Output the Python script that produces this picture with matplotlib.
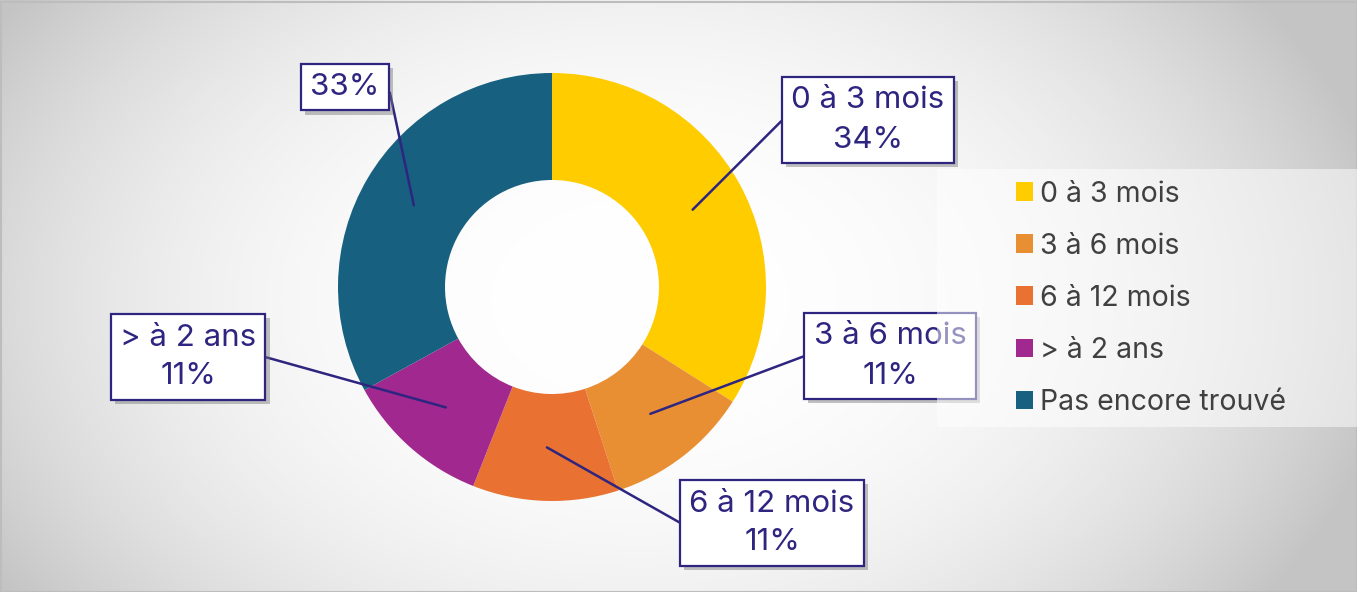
import numpy as np
import matplotlib
matplotlib.use('Agg')
import matplotlib.pyplot as plt
from matplotlib.patches import Rectangle
import matplotlib.patheffects as pe

# ---- data ----
categories = ["0 à 3 mois", "3 à 6 mois", "6 à 12 mois", "> à 2 ans", "Pas encore trouvé"]
values = [34, 11, 11, 11, 33]
colors = ["#FFCC00", "#E98F33", "#E97131", "#A0288F", "#17607F"]
show_category = [True, True, True, True, False]
# label box centres (image pixels) and arm directions
box_pos = [(868, 120), (890, 356), (772, 523), (188, 357), (345, 87)]
arm_side = ["left", "left", "left", "right", "right"]

W, H = 1357, 592
plt.rcParams['font.family'] = ['Inter', 'DejaVu Sans']
fig = plt.figure(figsize=(W / 100, H / 100), dpi=100)

# ---- background gradient ----
bg = fig.add_axes([0, 0, 1, 1], zorder=-10)
yy, xx = np.mgrid[0:H, 0:W]
r = np.sqrt(((xx - 640) / 760.0) ** 2 + ((yy - 300) / 520.0) ** 2)
v = 1 - 0.23 * np.clip(r, 0, 1) ** 2.5
img = np.dstack([v, v, v])
bg.imshow(img, extent=[0, W, 0, H], origin='upper', aspect='auto')
bg.set_xlim(0, W); bg.set_ylim(0, H)
bg.axis('off')
fig.add_artist(Rectangle((0.5, 0.5), W - 1, H - 2, transform=None, fill=False,
                         edgecolor='#BDBDBD', linewidth=1.5, zorder=-5))

# ---- donut ----
cx, cy, R = 552, 287, 214
ax = fig.add_axes([(cx - R) / W, (H - cy - R) / H, 2 * R / W, 2 * R / H])
wedges, _ = ax.pie(values, colors=colors, startangle=90, counterclock=False,
                   radius=1, wedgeprops=dict(width=0.5, edgecolor='none'))
ax.set_xlim(-1, 1); ax.set_ylim(-1, 1)
ax.set_aspect('equal')
ax.axis('off')

label_color = '#2E2580'
total = sum(values)
cum = 0
for i, val in enumerate(values):
    mid = 90 - (cum + val / 2) / total * 360
    cum += val
    ang = np.deg2rad(mid)
    px, py = 0.75 * np.cos(ang), 0.75 * np.sin(ang)
    pct = f"{round(val / total * 100)}%"
    txt = f"{categories[i]}\n{pct}" if show_category[i] else pct
    bx, by = box_pos[i]
    if arm_side[i] == "left":
        angA, rel = 180, (0, 0.5)
    else:
        angA, rel = 0, (1, 0.5)
    ann = ax.annotate(txt, xy=(px, py), xycoords='data',
                      xytext=(bx, H - by), textcoords='figure pixels',
                      ha='center', va='center', fontsize=22.5, color=label_color,
                      linespacing=1.5, annotation_clip=False,
                      bbox=dict(boxstyle='square,pad=0.3', facecolor='white',
                                edgecolor=label_color, linewidth=1.6),
                      arrowprops=dict(arrowstyle='-', color=label_color, lw=1.8,
                                      shrinkA=0, shrinkB=0, relpos=rel,
                                      connectionstyle=f"arc,angleA={angA},armA=9,angleB=0,armB=0,rad=0"))
    ann.get_bbox_patch().set_path_effects([
        pe.SimplePatchShadow(offset=(3, -3), shadow_rgbFace='#777777', alpha=0.45),
        pe.Normal()])

# ---- legend panel ----
fig.add_artist(Rectangle((937, H - 427), W - 937, 427 - 169, transform=None,
                         facecolor='white', alpha=0.5, edgecolor='none', zorder=3))
leg = fig.legend(wedges, categories, loc='upper left',
                 bbox_to_anchor=(990 / W, 1 - 155 / H), frameon=False,
                 fontsize=20.5, labelcolor='#404040', handlelength=0.62,
                 handleheight=0.62, handletextpad=0.25, labelspacing=0.88)
leg.set_zorder(5)

fig.savefig('out.png', dpi=100)
